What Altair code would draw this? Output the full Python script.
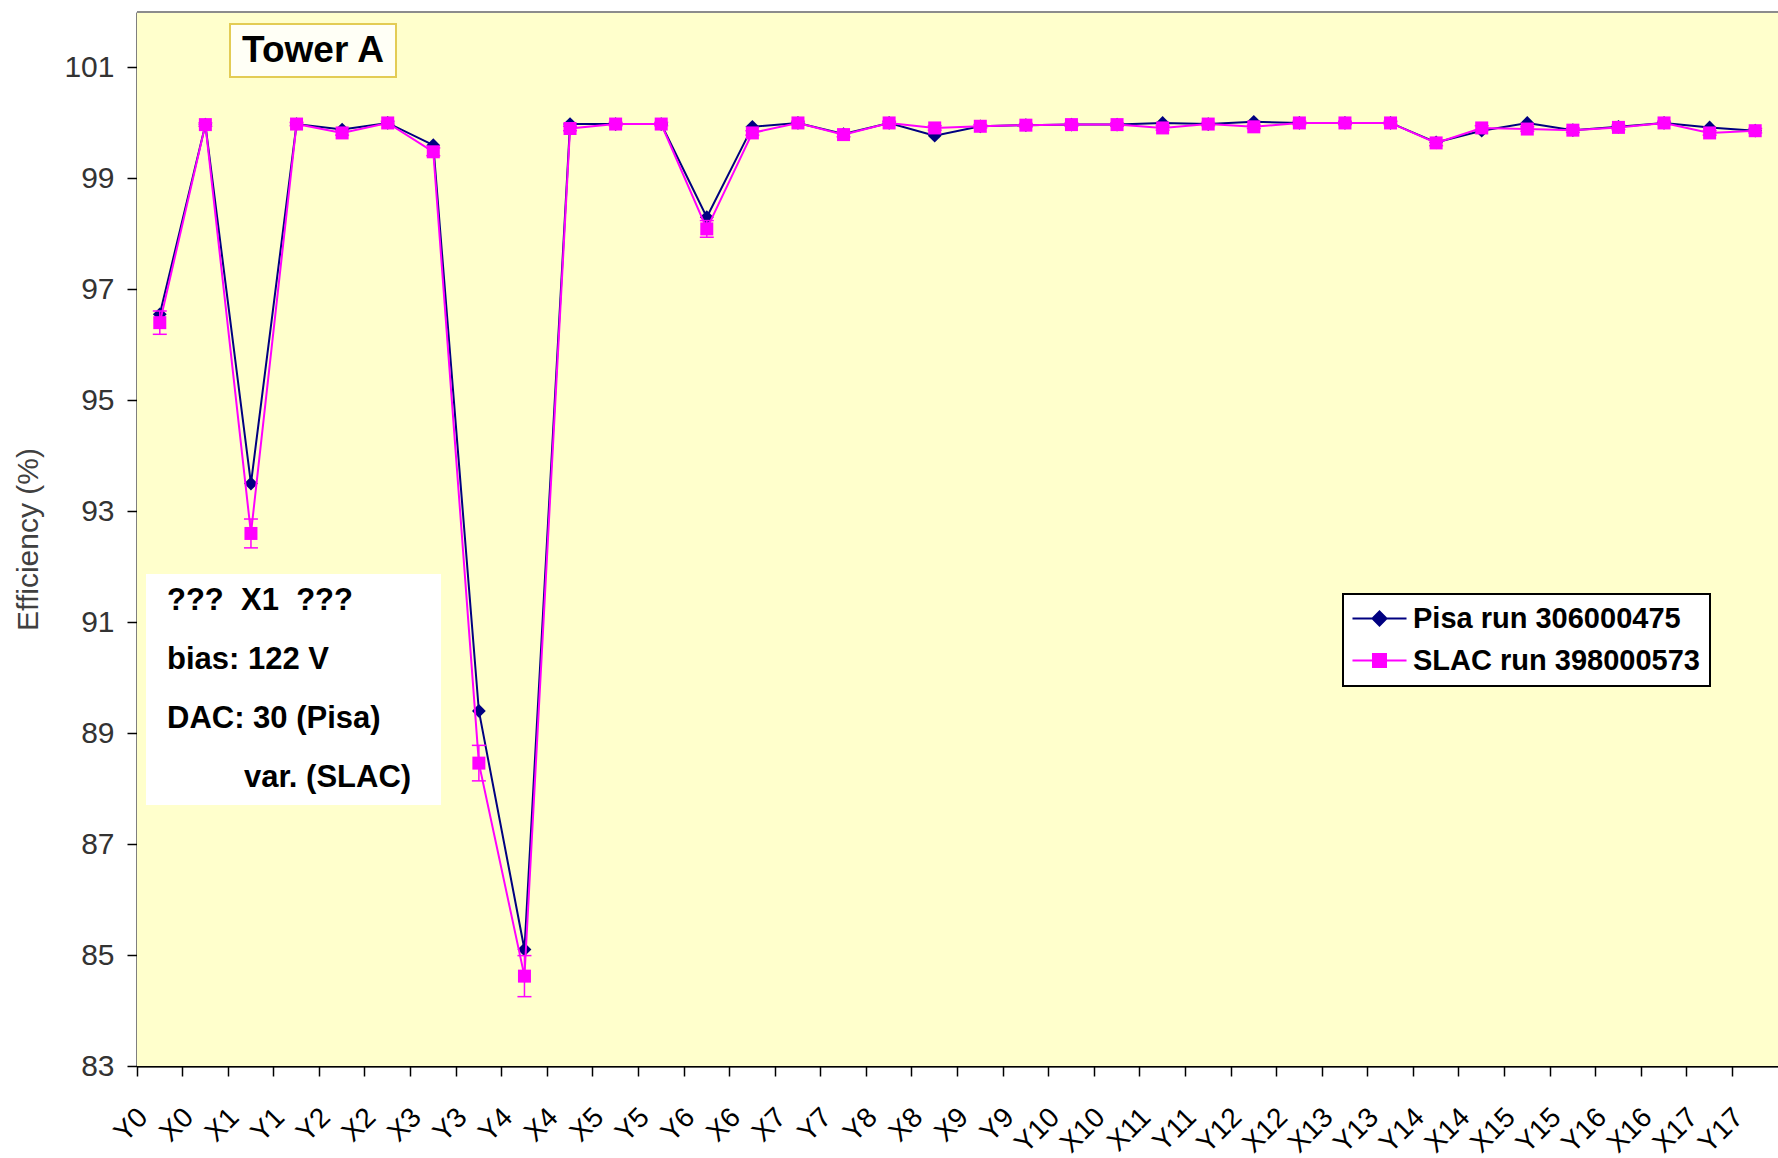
import altair as alt
import pandas as pd

FONT = "Liberation Sans"

# Strip layer channels along the tower
channels = ["Y0", "X0", "X1", "Y1", "Y2", "X2", "X3", "Y3", "Y4", "X4", "X5", "Y5",
            "Y6", "X6", "X7", "Y7", "Y8", "X8", "X9", "Y9", "Y10", "X10", "X11", "Y11",
            "Y12", "X12", "X13", "Y13", "Y14", "X14", "X15", "Y15", "Y16", "X16", "X17", "Y17"]

# Hit efficiency (%) per layer, Pisa run
pisa_eff = [96.55, 99.97, 93.50, 99.98, 99.88, 100.00, 99.60, 89.40, 85.10, 99.98, 99.98, 99.98,
            98.30, 99.93, 100.00, 99.80, 100.00, 99.77, 99.94, 99.96, 99.97, 99.97, 100.00, 99.98,
            100.02, 100.00, 100.00, 100.00, 99.65, 99.86, 100.00, 99.87, 99.93, 100.00, 99.92, 99.86]

# Hit efficiency (%) per layer, SLAC run, with its statistical error
slac_eff = [96.40, 99.97, 92.60, 99.98, 99.82, 100.00, 99.48, 88.46, 84.62, 99.90, 99.98, 99.98,
            98.09, 99.82, 100.00, 99.79, 100.00, 99.91, 99.94, 99.96, 99.97, 99.97, 99.91, 99.98,
            99.93, 100.00, 100.00, 100.00, 99.64, 99.91, 99.89, 99.87, 99.92, 100.00, 99.82, 99.86]
slac_err = [0.21, 0.03, 0.26, 0.03, 0.04, 0.03, 0.07, 0.32, 0.37, 0.04, 0.03, 0.03,
            0.15, 0.04, 0.03, 0.04, 0.03, 0.04, 0.03, 0.03, 0.03, 0.03, 0.04, 0.03,
            0.03, 0.03, 0.03, 0.03, 0.05, 0.04, 0.04, 0.04, 0.04, 0.03, 0.04, 0.04]

series_names = ["Pisa run 306000475", "SLAC run 398000573"]
y_ticks = [83, 85, 87, 89, 91, 93, 95, 97, 99, 101]

NAVY = "#000080"
MAGENTA = "#FF00FF"
PLOT_BG = "#FFFFCC"

df = pd.DataFrame({
    "channel": channels,
    "pisa": pisa_eff,
    "slac": slac_eff,
    "err": slac_err,
})
df["lo"] = df["slac"] - df["err"]
df["hi"] = df["slac"] + df["err"]

W, H = 1641, 1054

x_axis = alt.Axis(
    title=None, labelAngle=-45, labelAlign="right", labelBaseline="top",
    labelFont=FONT, labelFontSize=28, labelColor="#000000", labelPadding=27,
    labelOffset=-26, labelOverlap=False, tickSize=10, tickColor="#000000",
    tickWidth=1.5, domainColor="#000000", domainWidth=2, bandPosition=0, grid=False,
)
y_axis = alt.Axis(
    values=y_ticks, labelFont=FONT, labelFontSize=30, labelColor="#333333",
    labelPadding=13, tickSize=10, tickColor="#000000", tickWidth=1.5,
    domainColor="#000000", domainWidth=2, grid=True, gridColor="#000000",
    gridWidth=1.5, titleFont=FONT, titleFontSize=30, titleFontWeight="normal",
    titleColor="#404040", titlePadding=20,
)

x_enc = alt.X("channel:N", sort=channels,
              scale=alt.Scale(type="band", paddingInner=0, paddingOuter=0),
              axis=x_axis)


def y_enc(field):
    return alt.Y(field, scale=alt.Scale(domain=[83, 102], nice=False, zero=False),
                 axis=y_axis, title="Efficiency (%)")


base = alt.Chart(df)
one = alt.Chart(pd.DataFrame({"k": [0]}))

# Pale yellow plot area
plot_bg = one.mark_rect(fill=PLOT_BG).encode(
    x=alt.value(0), x2=alt.value(W), y=alt.value(0), y2=alt.value(H))

pisa_line = base.mark_line(color=NAVY, strokeWidth=2).encode(x=x_enc, y=y_enc("pisa:Q"))
pisa_pts = base.mark_point(shape="diamond", filled=True, size=190, color=NAVY,
                           opacity=1).encode(x=x_enc, y=y_enc("pisa:Q"))

slac_bar = base.mark_rule(color=MAGENTA, strokeWidth=1.5).encode(
    x=x_enc, y=y_enc("lo:Q"), y2="hi:Q")
slac_cap_lo = base.mark_tick(color=MAGENTA, size=14, thickness=1.5, opacity=1).encode(
    x=x_enc, y=y_enc("lo:Q"))
slac_cap_hi = base.mark_tick(color=MAGENTA, size=14, thickness=1.5, opacity=1).encode(
    x=x_enc, y=y_enc("hi:Q"))
slac_line = base.mark_line(color=MAGENTA, strokeWidth=2).encode(x=x_enc, y=y_enc("slac:Q"))
slac_pts = base.mark_point(shape="square", filled=True, size=169, color=MAGENTA,
                           opacity=1).encode(x=x_enc, y=y_enc("slac:Q"))

# Legend: line-through-marker symbols for each run
legend_paths = ["M-3.86,0H3.86M0,-1L1,0L0,1L-1,0Z",
                "M-3.86,0H3.86M-0.93,-0.93H0.93V0.93H-0.93Z"]
leg = alt.Legend(
    title=None, orient="none", legendX=1206, legendY=582,
    fillColor="#FFFFFF", strokeColor="#000000", padding=10, rowPadding=12,
    labelFont=FONT, labelFontSize=29, labelFontWeight="bold", labelColor="#000000",
    labelLimit=500, symbolSize=196, symbolStrokeWidth=2, symbolOffset=12,
    labelOffset=19,
)
legend_layer = alt.Chart(pd.DataFrame({"series": series_names})).transform_filter(
    "false"
).mark_point(filled=True, opacity=1).encode(
    fill=alt.Fill("series:N", scale=alt.Scale(domain=series_names, range=[NAVY, MAGENTA]),
                  legend=leg),
    stroke=alt.Stroke("series:N", scale=alt.Scale(domain=series_names, range=[NAVY, MAGENTA]),
                      legend=leg),
    shape=alt.Shape("series:N", scale=alt.Scale(domain=series_names, range=legend_paths),
                    legend=leg),
)

# Frame line along the top of the plot area
top_border = one.mark_rule(color="#8C8C8C", strokeWidth=2).encode(
    x=alt.value(0), x2=alt.value(W), y=alt.value(0))

# "Tower A" tag
tower_box = one.mark_rect(fill="#FFFFF6", stroke="#E3CC55", strokeWidth=2).encode(
    x=alt.value(93), x2=alt.value(259), y=alt.value(12), y2=alt.value(65))
tower_text = one.mark_text(text="Tower A", font=FONT, fontSize=37, fontWeight="bold",
                           color="#000000", align="center", baseline="middle").encode(
    x=alt.value(176), y=alt.value(39))

# Run settings note
note_box = one.mark_rect(fill="#FFFFFF").encode(
    x=alt.value(9), x2=alt.value(304), y=alt.value(562), y2=alt.value(793))


def note_line(text, x, y):
    return one.mark_text(text=text, font=FONT, fontSize=31, fontWeight="bold",
                         color="#000000", align="left", baseline="middle").encode(
        x=alt.value(x), y=alt.value(y))


notes = [
    note_line("???\u00a0 X1\u00a0 ???", 30, 589),
    note_line("bias: 122 V", 30, 648),
    note_line("DAC: 30 (Pisa)", 30, 707),
    note_line("var. (SLAC)", 107, 766),
]

chart = alt.layer(
    plot_bg, top_border, pisa_line, pisa_pts, slac_bar, slac_cap_lo, slac_cap_hi,
    slac_line, slac_pts, legend_layer, tower_box, tower_text, note_box, *notes,
).properties(
    width=W, height=H,
    autosize=alt.AutoSizeParams(type="none"),
    padding={"left": 137, "top": 12, "right": 0, "bottom": 92},
    background="#FFFFFF",
).configure_view(
    stroke=None, fill=PLOT_BG
).configure_legend(
    strokeWidth=2
)

chart.save("out.html", embed_options={"renderer": "svg", "actions": False})
